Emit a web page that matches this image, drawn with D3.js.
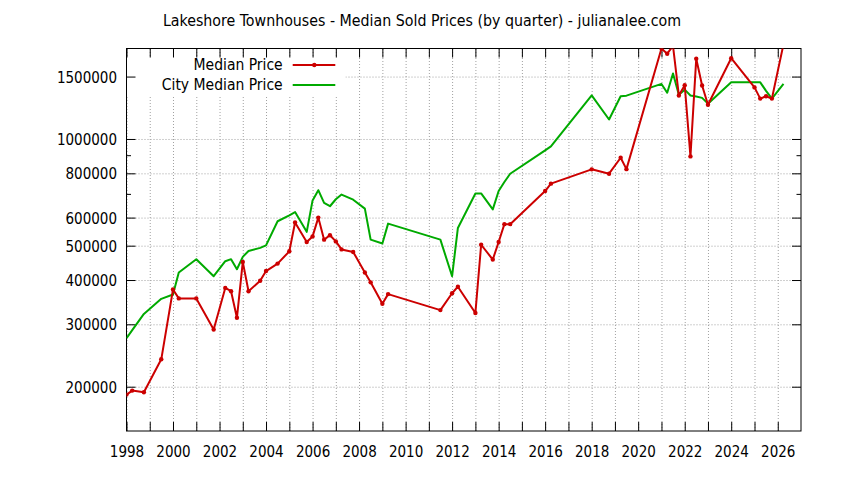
<!DOCTYPE html>
<html lang="en">
<head>
    <meta charset="UTF-8">
    <title>Lakeshore Townhouses</title>
    <script type="text/javascript" src="https://cdn.jsdelivr.net/npm/d3@7/dist/d3.min.js"></script>
    <style>
        body {
            margin: 0;
            background-color: #ffffff;
        }

        text {
            font-family: "DejaVu Sans Condensed", "DejaVu Sans", sans-serif;
            font-stretch: condensed;
            font-size: 15px;
            fill: #000;
        }

        text.title {
            font-size: 15.8px;
        }

        text.key-label {
            font-size: 15.5px;
        }

        .grid line {
            stroke: #a0a0a0;
            stroke-width: 1px;
            stroke-dasharray: 1, 2;
        }

        .axis line {
            stroke: #000;
            stroke-width: 1px;
        }
    </style>
</head>
<body>
<div id="chart"></div>
<script type="text/javascript">
    // quarters with sales (first month of the quarter)
    var quarters = ["1998-01", "1998-04", "1998-10", "1999-07", "2000-01", "2000-04", "2001-01", "2001-10",
        "2002-04", "2002-07", "2002-10", "2003-01", "2003-04", "2003-10", "2004-01", "2004-07",
        "2005-01", "2005-04", "2005-10", "2006-01", "2006-04", "2006-07", "2006-10", "2007-01",
        "2007-04", "2007-10", "2008-04", "2008-07", "2009-01", "2009-04", "2011-07", "2012-01",
        "2012-04", "2013-01", "2013-04", "2013-10", "2014-01", "2014-04", "2014-07", "2016-01",
        "2016-04", "2018-01", "2018-10", "2019-04", "2019-07", "2021-01", "2021-04", "2021-07",
        "2021-10", "2022-01", "2022-04", "2022-07", "2022-10", "2023-01", "2024-01", "2025-01",
        "2025-04", "2025-07", "2025-10", "2026-04"];

    var medianPrice = [190000, 195000, 193000, 239000, 376000, 355000, 355000, 290000,
        380000, 372000, 313000, 450000, 372000, 398000, 424000, 445000,
        482000, 581000, 512000, 531000, 600000, 520000, 535000, 514000,
        488000, 480000, 420000, 394000, 343000, 365000, 329000, 367000,
        383000, 323000, 503000, 457000, 512000, 575000, 575000, 713000,
        748000, 821000, 798000, 885000, 822000, 1800000, 1740000, 1830000,
        1327000, 1418000, 893000, 1685000, 1416000, 1249000, 1690000, 1398000,
        1300000, 1320000, 1300000, 1850000];

    var cityMedianPrice = [274000, 289000, 321000, 354000, 364000, 420000, 458000, 410000,
        452000, 458000, 429000, 465000, 483000, 493000, 501000, 586000,
        609000, 622000, 547000, 671000, 717000, 660000, 646000, 676000,
        697000, 674000, 636000, 520000, 507000, 577000, 520000, 410000,
        561000, 702000, 702000, 633000, 713000, 756000, 798000, 929000,
        953000, 1327000, 1135000, 1320000, 1325000, 1430000, 1350000, 1530000,
        1333000, 1378000, 1327000, 1318000, 1306000, 1258000, 1445000, 1445000,
        1445000, 1367000, 1300000, 1430000];

    var yTickValues = [200000, 300000, 400000, 500000, 600000, 800000, 1000000, 1500000];
    var yMinorTicks = [700000, 900000];
    var xYears = d3.range(1998, 2027);

    const W = 844, H = 480;
    const plotLeft = 126.5, plotRight = 801, plotTop = 48.5, plotBottom = 431;

    var parseQ = d3.timeParse("%Y-%m");
    var dates = quarters.map(parseQ);
    var yearDates = xYears.map(function (yr) { return new Date(yr, 0, 1); });

    var x = d3.scaleTime()
        .domain([new Date(1998, 0, 1), new Date(2027, 0, 1)])
        .range([plotLeft, plotRight]);
    var y = d3.scaleLog()
        .domain([150000, 1800000])
        .range([plotBottom, plotTop]);

    const svg = d3.select("#chart").append("svg")
        .attr("width", W)
        .attr("height", H);

    svg.append("text")
        .attr("class", "title")
        .attr("x", W / 2)
        .attr("y", 25.6)
        .style("text-anchor", "middle")
        .text("Lakeshore Townhouses - Median Sold Prices (by quarter) - julianalee.com");

    // grid
    svg.append("g")
        .attr("class", "grid")
        .attr("transform", "translate(0," + plotBottom + ")")
        .call(d3.axisBottom(x).tickValues(yearDates).tickSize(-(plotBottom - plotTop)).tickFormat(""))
        .call(g => g.select(".domain").remove());
    svg.append("g")
        .attr("class", "grid")
        .attr("transform", "translate(" + plotLeft + ",0)")
        .call(d3.axisLeft(y).tickValues(yTickValues).tickSize(-(plotRight - plotLeft)).tickFormat(""))
        .call(g => g.select(".domain").remove());

    // key box hides the grid behind it
    svg.append("rect")
        .attr("x", plotLeft + 0.5)
        .attr("y", 56)
        .attr("width", 345 - plotLeft)
        .attr("height", 40)
        .attr("fill", "#fff");

    // axes, ticks pointing inwards on all four sides
    var xBottom = svg.append("g")
        .attr("class", "axis")
        .attr("transform", "translate(0," + plotBottom + ")")
        .call(d3.axisBottom(x).tickValues(yearDates).tickSize(-9).tickSizeOuter(0)
            .tickFormat(function (d) { return d.getFullYear() % 2 === 0 ? d.getFullYear() : ""; }));
    xBottom.select(".domain").remove();
    xBottom.selectAll("text")
        .attr("y", 25.7)
        .attr("dy", null)
        .attr("fill", "#000");

    svg.append("g")
        .attr("class", "axis")
        .attr("transform", "translate(0," + plotTop + ")")
        .call(d3.axisTop(x).tickValues(yearDates).tickSize(-9).tickFormat(""))
        .call(g => g.select(".domain").remove());

    var yLeft = svg.append("g")
        .attr("class", "axis")
        .attr("transform", "translate(" + plotLeft + ",0)")
        .call(d3.axisLeft(y).tickValues(yTickValues).tickSize(-9).tickPadding(9.5)
            .tickFormat(d3.format("d")));
    yLeft.select(".domain").remove();
    yLeft.selectAll("text")
        .attr("dy", "0.37em")
        .attr("fill", "#000");

    svg.append("g")
        .attr("class", "axis")
        .attr("transform", "translate(" + plotLeft + ",0)")
        .call(d3.axisLeft(y).tickValues(yMinorTicks).tickSize(-4.5).tickFormat(""))
        .call(g => g.select(".domain").remove());

    svg.append("g")
        .attr("class", "axis")
        .attr("transform", "translate(" + plotRight + ",0)")
        .call(d3.axisRight(y).tickValues(yTickValues).tickSize(-9).tickFormat(""))
        .call(g => g.select(".domain").remove());
    svg.append("g")
        .attr("class", "axis")
        .attr("transform", "translate(" + plotRight + ",0)")
        .call(d3.axisRight(y).tickValues(yMinorTicks).tickSize(-4.5).tickFormat(""))
        .call(g => g.select(".domain").remove());

    // border
    svg.append("rect")
        .attr("x", plotLeft)
        .attr("y", plotTop)
        .attr("width", plotRight - plotLeft)
        .attr("height", plotBottom - plotTop)
        .attr("fill", "none")
        .attr("stroke", "#000")
        .attr("stroke-width", 1);

    svg.append("clipPath")
        .attr("id", "plot-clip")
        .append("rect")
        .attr("x", plotLeft)
        .attr("y", plotTop)
        .attr("width", plotRight - plotLeft)
        .attr("height", plotBottom - plotTop);

    var plot = svg.append("g").attr("clip-path", "url(#plot-clip)");

    var line = d3.line()
        .x(function (d) { return x(d[0]); })
        .y(function (d) { return y(d[1]); });

    var cityPts = dates.map(function (d, i) { return [d, cityMedianPrice[i]]; });
    var medPts = dates.map(function (d, i) { return [d, medianPrice[i]]; });

    plot.append("path")
        .datum(cityPts)
        .attr("fill", "none")
        .attr("stroke", "#00aa00")
        .attr("stroke-width", 2)
        .attr("stroke-linejoin", "round")
        .attr("d", line);

    plot.append("path")
        .datum(medPts)
        .attr("fill", "none")
        .attr("stroke", "#cc0000")
        .attr("stroke-width", 2)
        .attr("stroke-linejoin", "round")
        .attr("d", line);

    plot.selectAll("circle.pt")
        .data(medPts)
        .enter().append("circle")
        .attr("class", "pt")
        .attr("cx", function (d) { return x(d[0]); })
        .attr("cy", function (d) { return y(d[1]); })
        .attr("r", 2.2)
        .attr("fill", "#cc0000");

    // key
    var keyRows = [
        {label: "Median Price", color: "#cc0000", marker: true, cy: 65},
        {label: "City Median Price", color: "#00aa00", marker: false, cy: 85}
    ];
    var key = svg.append("g");
    keyRows.forEach(function (k) {
        key.append("text")
            .attr("class", "key-label")
            .attr("x", 282.7)
            .attr("y", k.cy + 5.4)
            .style("text-anchor", "end")
            .text(k.label);
        key.append("line")
            .attr("x1", 292.7)
            .attr("x2", 335.3)
            .attr("y1", k.cy)
            .attr("y2", k.cy)
            .attr("stroke", k.color)
            .attr("stroke-width", 2);
        if (k.marker) {
            key.append("circle")
                .attr("cx", 314.3)
                .attr("cy", k.cy)
                .attr("r", 2.2)
                .attr("fill", k.color);
        }
    });
</script>
</body>
</html>
